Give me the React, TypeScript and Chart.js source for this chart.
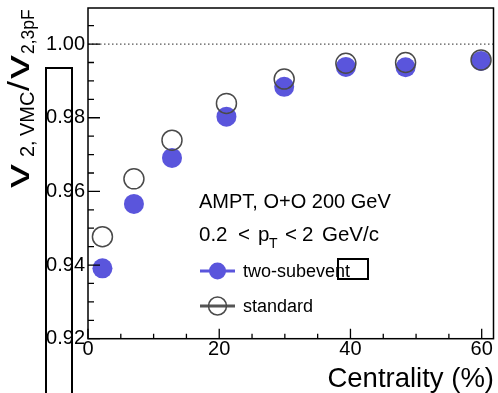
import React, { useEffect, useRef } from 'react';
import { Chart, registerables } from 'chart.js';

Chart.register(...registerables);

// ---- data ----
const centrality = [2.2, 7.0, 12.8, 21.1, 29.9, 39.3, 48.4, 59.9];
const twoSubevent = [0.9391, 0.9566, 0.9691, 0.9803, 0.9884, 0.9938, 0.9937, 0.9954];
const standard = [0.9477, 0.9634, 0.9739, 0.9839, 0.9905, 0.9948, 0.995, 0.9957];

const xTicks = [0, 20, 40, 60];
const xMinorTicks = [5, 10, 15, 25, 30, 35, 45, 50, 55];
const yTicks = [0.92, 0.94, 0.96, 0.98, 1.0];
const yMinorTicks = [0.925, 0.93, 0.935, 0.945, 0.95, 0.955, 0.965, 0.97, 0.975, 0.985, 0.99, 0.995, 1.005];
const refLine = 1.0;

const xLabel = 'Centrality (%)';
const annotation1 = 'AMPT, O+O 200 GeV';
const legendLabels = ['two-subevent', 'standard'];

const BLUE = '#5a55dc';
const GRAY = '#4a4a4a';
const FONT = '"Liberation Sans", Arial, Helvetica, sans-serif';

const rootPlugin = {
  id: 'rootStyle',
  beforeDatasetsDraw(chart: any) {
    const { ctx, chartArea: a, scales } = chart;
    const y = scales.y;
    ctx.save();
    ctx.strokeStyle = '#555';
    ctx.lineWidth = 1.2;
    ctx.setLineDash([1.5, 2.5]);
    const py = y.getPixelForValue(refLine);
    ctx.beginPath();
    ctx.moveTo(a.left, py);
    ctx.lineTo(a.right, py);
    ctx.stroke();
    ctx.restore();
  },
  afterDatasetsDraw(chart: any) {
    const { ctx, chartArea: a, scales } = chart;
    const x = scales.x;
    const y = scales.y;
    ctx.save();
    // frame
    ctx.strokeStyle = '#000';
    ctx.lineWidth = 1.5;
    ctx.strokeRect(a.left, a.top, a.right - a.left, a.bottom - a.top);
    // ticks
    ctx.lineWidth = 1.3;
    ctx.beginPath();
    xTicks.forEach((v) => {
      const px = x.getPixelForValue(v);
      ctx.moveTo(px, a.bottom);
      ctx.lineTo(px, a.bottom - 10);
    });
    xMinorTicks.forEach((v) => {
      const px = x.getPixelForValue(v);
      ctx.moveTo(px, a.bottom);
      ctx.lineTo(px, a.bottom - 5);
    });
    yTicks.forEach((v) => {
      const py = y.getPixelForValue(v);
      ctx.moveTo(a.left, py);
      ctx.lineTo(a.left + 12, py);
    });
    yMinorTicks.forEach((v) => {
      const py = y.getPixelForValue(v);
      ctx.moveTo(a.left, py);
      ctx.lineTo(a.left + 6, py);
    });
    ctx.stroke();

    ctx.fillStyle = '#000';
    ctx.textAlign = 'left';
    ctx.textBaseline = 'alphabetic';

    // x title
    ctx.font = `27.5px ${FONT}`;
    ctx.textAlign = 'right';
    ctx.fillText(xLabel, 494, 387);
    ctx.textAlign = 'left';

    // y title (rotated)
    ctx.save();
    ctx.translate(29, 188);
    ctx.rotate(-Math.PI / 2);
    const stretched = (t: string, u: number, font: string, sx: number) => {
      ctx.save();
      ctx.translate(u, 0);
      ctx.scale(sx, 1);
      ctx.font = font;
      ctx.fillText(t, 0, 0);
      ctx.restore();
    };
    stretched('v', 0, `34px ${FONT}`, 1.4);
    ctx.font = `20px ${FONT}`;
    ctx.fillText('2,', 31, 5);
    ctx.fillText('VMC', 52, 5);
    stretched('/', 97, `30px ${FONT}`, 1.2);
    stretched('v', 109, `34px ${FONT}`, 1.4);
    ctx.font = `17.5px ${FONT}`;
    ctx.fillText('2,3pF', 134, 5);
    ctx.restore();

    // annotation text
    ctx.font = `20px ${FONT}`;
    ctx.fillText(annotation1, 199, 208);
    ctx.font = `20.5px ${FONT}`;
    ctx.fillText('0.2', 199, 241);
    ctx.fillText('<', 238, 241);
    ctx.fillText('p', 258, 241);
    ctx.font = `14px ${FONT}`;
    ctx.fillText('T', 269, 248);
    ctx.font = `20.5px ${FONT}`;
    ctx.fillText('<', 285, 241);
    ctx.fillText('2', 302, 241);
    ctx.fillText('GeV/c', 322, 241);

    // legend
    const legY = [271, 306];
    ctx.lineWidth = 3;
    ctx.strokeStyle = BLUE;
    ctx.beginPath();
    ctx.moveTo(200, legY[0]);
    ctx.lineTo(235, legY[0]);
    ctx.stroke();
    ctx.fillStyle = BLUE;
    ctx.beginPath();
    ctx.arc(217.5, legY[0], 8.5, 0, Math.PI * 2);
    ctx.fill();
    ctx.strokeStyle = '#555';
    ctx.beginPath();
    ctx.moveTo(200, legY[1]);
    ctx.lineTo(235, legY[1]);
    ctx.stroke();
    ctx.lineWidth = 1.5;
    ctx.strokeStyle = GRAY;
    ctx.beginPath();
    ctx.arc(217.5, legY[1], 9, 0, Math.PI * 2);
    ctx.stroke();
    ctx.fillStyle = '#000';
    ctx.font = `18px ${FONT}`;
    ctx.fillText(legendLabels[0], 243, legY[0] + 6);
    ctx.fillText(legendLabels[1], 243, legY[1] + 6);

    // stray boxes
    ctx.lineWidth = 2;
    ctx.strokeStyle = '#000';
    ctx.strokeRect(338, 259, 30, 20);
    ctx.strokeRect(46, 68, 26, 340);
    ctx.restore();
  },
};

export default function App() {
  const ref = useRef<HTMLCanvasElement | null>(null);
  useEffect(() => {
    if (!ref.current) return;
    const chart = new Chart(ref.current, {
      type: 'scatter',
      data: {
        datasets: [
          {
            label: legendLabels[1],
            data: centrality.map((c, i) => ({ x: c, y: standard[i] })),
            pointRadius: 10,
            pointBackgroundColor: 'rgba(0,0,0,0)',
            pointBorderColor: GRAY,
            pointBorderWidth: 1.5,
            showLine: false,
          },
          {
            label: legendLabels[0],
            data: centrality.map((c, i) => ({ x: c, y: twoSubevent[i] })),
            pointRadius: 10,
            pointBackgroundColor: BLUE,
            pointBorderColor: BLUE,
            pointBorderWidth: 0,
            showLine: false,
          },
        ],
      },
      options: {
        responsive: false,
        animation: false,
        devicePixelRatio: 1,
        layout: { autoPadding: false, padding: { left: 0, top: 8, right: 4.5, bottom: 0 } },
        plugins: { legend: { display: false }, tooltip: { enabled: false }, title: { display: false } },
        scales: {
          x: {
            type: 'linear',
            min: 0,
            max: 61.8,
            grid: { display: false, drawTicks: false },
            border: { display: false },
            afterBuildTicks: (s: any) => {
              s.ticks = xTicks.map((v) => ({ value: v }));
            },
            afterFit: (s: any) => {
              s.height = 393 - 338.7;
              s.paddingLeft = 0;
              s.paddingRight = 0;
              s.paddingTop = 0;
              s.paddingBottom = 0;
            },
            ticks: {
              padding: -1,
              color: '#000',
              maxRotation: 0,
              autoSkip: false,
              font: { family: FONT, size: 20 },
              callback: (v: any) => String(v),
            },
          },
          y: {
            type: 'linear',
            min: 0.92,
            max: 1.0098,
            grid: { display: false, drawTicks: false },
            border: { display: false },
            afterBuildTicks: (s: any) => {
              s.ticks = yTicks.map((v) => ({ value: v }));
            },
            afterFit: (s: any) => {
              s.width = 88;
              s.paddingLeft = 0;
              s.paddingRight = 0;
              s.paddingTop = 0;
              s.paddingBottom = 0;
            },
            ticks: {
              padding: 3,
              color: '#000',
              autoSkip: false,
              font: { family: FONT, size: 20 },
              callback: (v: any) => Number(v).toFixed(2),
            },
          },
        },
      },
      plugins: [rootPlugin],
    } as any);
    return () => chart.destroy();
  }, []);
  return (
    <div style={{ position: 'fixed', left: 0, top: 0, width: 498, height: 393, background: '#fff' }}>
      <canvas ref={ref} width={498} height={393} style={{ display: 'block' }} />
    </div>
  );
}
